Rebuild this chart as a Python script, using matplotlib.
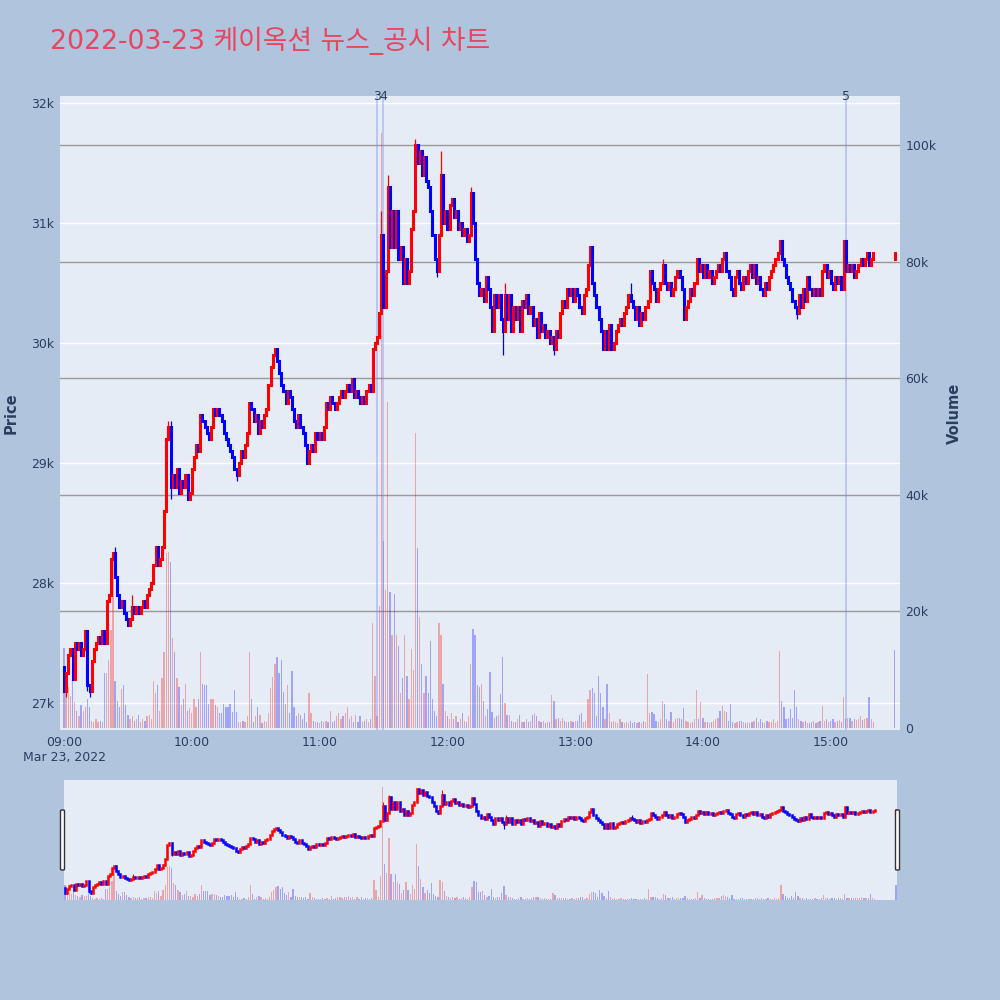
import matplotlib
matplotlib.use('Agg')
import matplotlib.pyplot as plt
from matplotlib.patches import FancyBboxPatch
import numpy as np

plt.rcParams['font.family'] = ['DejaVu Sans', 'Noto Sans CJK KR']

# ---------------- data ----------------
TITLE = '2022-03-23 케이옥션 뉴스_공시 차트'
X_TICK_MINUTES = [0, 60, 120, 180, 240, 300, 360]
X_TICK_LABELS = ['09:00\nMar 23, 2022', '10:00', '11:00', '12:00', '13:00', '14:00', '15:00']
PRICE_TICKS = [27000, 28000, 29000, 30000, 31000, 32000]
PRICE_TICK_LABELS = ['27k', '28k', '29k', '30k', '31k', '32k']
VOLUME_TICKS = [0, 20000, 40000, 60000, 80000, 100000]
VOLUME_TICK_LABELS = ['0', '20k', '40k', '60k', '80k', '100k']

FIRST_OPEN = 27300
# one close per minute from 09:00 (minute 0) to 15:20 (minute 380)
SESSION_CLOSE = [
    27100, 27250, 27400, 27450, 27200, 27500, 27450, 27500, 27400, 27450,
    27600, 27150, 27100, 27350, 27450, 27500, 27550, 27500, 27600, 27500,
    27850, 27900, 28200, 28250, 28050, 27900, 27800, 27850, 27750, 27700,
    27650, 27700, 27800, 27750, 27800, 27750, 27800, 27850, 27800, 27900,
    27950, 28000, 28150, 28300, 28150, 28200, 28300, 28600, 29200, 29300,
    28800, 28900, 28800, 28950, 28750, 28850, 28800, 28900, 28700, 28750,
    28950, 29050, 29150, 29100, 29400, 29350, 29300, 29250, 29200, 29300,
    29450, 29400, 29450, 29400, 29350, 29250, 29200, 29150, 29100, 29050,
    28950, 28900, 29000, 29100, 29050, 29150, 29250, 29500, 29450, 29350,
    29400, 29250, 29350, 29300, 29400, 29450, 29650, 29800, 29900, 29950,
    29850, 29750, 29650, 29600, 29500, 29600, 29550, 29450, 29350, 29300,
    29400, 29300, 29250, 29150, 29000, 29100, 29150, 29100, 29250, 29200,
    29250, 29200, 29300, 29500, 29450, 29550, 29500, 29450, 29500, 29550,
    29600, 29550, 29600, 29650, 29600, 29700, 29550, 29600, 29550, 29500,
    29550, 29500, 29600, 29650, 29600, 29950, 30000, 30050, 30250, 30900,
    30300, 30600, 31300, 30800, 31100, 30800, 31100, 30700, 30800, 30500,
    30700, 30500, 30600, 30950, 31100, 31650, 31500, 31600, 31400, 31550,
    31350, 31300, 31100, 30900, 30700, 30600, 30900, 31400, 31000, 31100,
    30950, 31150, 31200, 31050, 31100, 30950, 31000, 30900, 30950, 30850,
    30900, 31250, 31000, 30700, 30500, 30400, 30450, 30350, 30550, 30450,
    30300, 30100, 30400, 30300, 30400, 30200, 30100, 30400, 30200, 30400,
    30100, 30300, 30200, 30300, 30100, 30350, 30300, 30400, 30250, 30300,
    30150, 30200, 30050, 30250, 30100, 30150, 30050, 30100, 30000, 30050,
    29950, 30100, 30050, 30250, 30350, 30300, 30450, 30400, 30450, 30350,
    30450, 30400, 30300, 30250, 30400, 30450, 30650, 30800, 30500, 30400,
    30300, 30200, 30100, 29950, 30100, 29950, 30150, 29950, 30000, 30100,
    30150, 30200, 30150, 30250, 30300, 30400, 30350, 30300, 30200, 30300,
    30150, 30250, 30200, 30300, 30350, 30600, 30500, 30450, 30350, 30450,
    30500, 30650, 30500, 30450, 30500, 30400, 30450, 30550, 30600, 30550,
    30450, 30200, 30300, 30350, 30450, 30400, 30500, 30700, 30600, 30650,
    30550, 30650, 30550, 30600, 30500, 30550, 30600, 30650, 30600, 30700,
    30750, 30600, 30550, 30450, 30400, 30550, 30600, 30500, 30450, 30550,
    30500, 30600, 30650, 30550, 30650, 30500, 30550, 30450, 30400, 30500,
    30450, 30550, 30600, 30650, 30700, 30750, 30850, 30700, 30650, 30550,
    30500, 30450, 30350, 30300, 30250, 30400, 30300, 30450, 30350, 30550,
    30450, 30400, 30450, 30400, 30450, 30400, 30600, 30650, 30550, 30600,
    30500, 30450, 30550, 30500, 30550, 30450, 30850, 30600, 30650, 30600,
    30650, 30550, 30600, 30650, 30700, 30650, 30700, 30750, 30650, 30700,
    30750,
]
# extra wick extremes (minute: price)
WICK_HIGH = {24: 28300, 32: 27900, 49: 29350, 50: 29350, 149: 31100, 152: 31400,
             165: 31700, 177: 31600, 191: 31300, 207: 30500, 266: 30500, 281: 30700}
WICK_LOW = {1: 27050, 11: 27100, 12: 27050, 50: 28700, 81: 28850, 175: 30550,
            206: 29900, 230: 29900, 344: 30200}
# volume per minute, in thousands of shares
VOLUME_K = [
    13.7, 9.4, 7.0, 5.5, 12.0, 4.5, 3.0, 2.0, 3.9, 3.0,
    3.6, 5.0, 3.6, 1.2, 1.0, 1.5, 1.0, 1.2, 1.0, 9.4,
    9.4, 11.7, 16.8, 30.0, 8.0, 4.7, 3.6, 6.7, 7.3, 3.9,
    2.2, 1.5, 2.0, 1.2, 1.5, 2.2, 1.0, 1.5, 1.2, 2.0,
    2.2, 1.5, 8.0, 6.0, 7.4, 3.0, 8.5, 13.0, 30.0, 30.2,
    28.5, 15.4, 13.0, 8.5, 7.0, 3.9, 5.0, 7.5, 3.0, 3.5,
    2.5, 5.0, 3.6, 5.0, 13.0, 7.6, 7.4, 7.4, 4.2, 5.0,
    5.0, 4.0, 3.6, 2.5, 2.5, 4.2, 3.6, 3.6, 4.2, 2.8,
    6.6, 2.8, 1.0, 1.0, 1.2, 1.0, 2.0, 13.0, 5.0, 1.0,
    2.0, 3.6, 2.2, 0.8, 1.2, 1.0, 2.5, 6.9, 8.7, 11.0,
    12.2, 9.4, 11.6, 6.2, 4.2, 7.3, 2.5, 9.7, 3.6, 2.0,
    2.5, 2.2, 1.5, 2.5, 1.0, 6.0, 2.5, 1.2, 1.0, 1.0,
    0.8, 1.2, 1.0, 1.2, 1.0, 3.0, 1.0, 1.2, 2.0, 2.5,
    1.5, 2.0, 2.5, 3.6, 1.5, 2.0, 1.0, 2.2, 1.0, 2.0,
    1.0, 1.2, 1.5, 1.0, 1.5, 18.0, 9.0, 2.0, 21.0, 102.0,
    32.0, 23.7, 56.0, 23.4, 16.0, 23.0, 16.0, 14.0, 6.0, 8.5,
    16.0, 9.0, 5.0, 13.5, 10.0, 50.6, 30.8, 19.0, 11.0, 6.0,
    9.0, 6.0, 15.0, 5.0, 3.0, 2.0, 18.0, 16.0, 7.5, 3.0,
    2.0, 1.5, 2.5, 1.5, 2.0, 1.0, 1.5, 2.5, 1.2, 1.0,
    2.0, 11.0, 17.0, 16.0, 7.3, 7.0, 7.5, 4.6, 2.0, 3.3,
    9.6, 2.7, 1.7, 2.0, 2.3, 5.9, 12.2, 4.3, 2.3, 2.3,
    1.2, 1.0, 1.0, 1.5, 2.3, 1.0, 1.0, 1.5, 1.0, 1.2,
    2.3, 2.5, 2.0, 1.2, 1.0, 1.2, 0.8, 1.0, 1.0, 5.6,
    4.6, 1.5, 1.7, 1.2, 1.7, 1.2, 1.0, 1.0, 1.2, 1.0,
    1.2, 1.2, 2.3, 2.5, 1.0, 1.2, 4.9, 6.5, 6.9, 6.0,
    2.0, 9.0, 6.0, 3.6, 1.5, 7.6, 2.5, 1.0, 1.2, 1.0,
    0.8, 1.5, 1.0, 0.8, 1.0, 0.8, 1.2, 0.8, 1.0, 0.8,
    1.0, 0.8, 1.2, 1.0, 9.2, 2.5, 2.8, 2.4, 1.2, 1.0,
    1.6, 4.7, 4.2, 1.6, 1.2, 2.8, 1.0, 1.6, 1.8, 1.8,
    1.5, 3.4, 1.2, 1.0, 0.8, 1.0, 1.6, 6.5, 1.6, 4.4,
    1.8, 1.0, 1.0, 0.8, 1.0, 1.2, 1.6, 1.8, 3.0, 3.8,
    3.0, 2.8, 1.2, 4.2, 1.0, 0.8, 1.0, 1.2, 1.2, 1.0,
    0.8, 1.0, 0.8, 1.0, 1.2, 1.8, 1.0, 1.6, 1.0, 0.8,
    1.2, 1.0, 1.0, 1.6, 0.8, 1.2, 13.2, 4.7, 3.6, 1.5,
    1.8, 3.2, 1.7, 6.5, 3.6, 1.6, 1.2, 1.0, 1.2, 0.8,
    0.8, 1.0, 1.2, 0.8, 1.0, 1.2, 3.8, 1.2, 1.6, 1.0,
    1.2, 1.6, 1.0, 1.2, 1.4, 1.0, 5.3, 1.6, 1.8, 1.8,
    1.2, 1.6, 1.4, 1.6, 2.0, 1.4, 1.6, 1.8, 5.3, 1.6,
    1.0,
]
CLOSING_AUCTION_MINUTE = 390  # 15:30
CLOSING_AUCTION_OPEN = 30700
CLOSING_AUCTION_CLOSE = 30750
CLOSING_AUCTION_VOLUME_K = 13.4

NEWS_MINUTES = [147, 150, 367]
NEWS_COUNTS = ['3', '4', '5']

# ---------------- derived ----------------
n = len(SESSION_CLOSE)
minutes = np.array(list(range(n)) + [CLOSING_AUCTION_MINUTE], float)
closes = np.array(SESSION_CLOSE + [CLOSING_AUCTION_CLOSE], float)
opens = np.array([FIRST_OPEN] + SESSION_CLOSE[:-1] + [CLOSING_AUCTION_OPEN], float)
highs = np.maximum(opens, closes)
lows = np.minimum(opens, closes)
for k, v in WICK_HIGH.items():
    highs[k] = max(highs[k], v)
for k, v in WICK_LOW.items():
    lows[k] = min(lows[k], v)
volumes = np.array(VOLUME_K + [CLOSING_AUCTION_VOLUME_K]) * 1000.0
prev_close = np.concatenate([[FIRST_OPEN], closes[:-1]])

RED = '#FF0000'
BLUE = '#0000FF'
candle_colors = np.where(closes > opens, RED, BLUE)
vol_colors = np.where(closes > prev_close, RED, BLUE)

BG = '#B0C4DE'
PLOT_BG = '#E5ECF6'
TXT = '#2a3f5f'

PRICE_LIM = (26775, 32058)
VOL_LIM = (-340, 108400)


def draw(ax_p, ax_v, body_lw=2.2, wick_lw=0.9):
    ax_v.bar(minutes, volumes, width=0.6, color=vol_colors, alpha=0.3,
             linewidth=0, zorder=2)
    ax_p.vlines(minutes, lows, highs, colors=candle_colors, linewidth=wick_lw, zorder=3)
    ax_p.vlines(minutes, np.minimum(opens, closes), np.maximum(opens, closes),
                colors=candle_colors, linewidth=body_lw, capstyle='projecting',
                zorder=4)


fig = plt.figure(figsize=(10, 10), dpi=100)
fig.patch.set_facecolor(BG)

# ---------- main chart ----------
ax_p = fig.add_axes([0.06, 0.27, 0.84, 0.634])
ax_v = ax_p.twinx()
ax_p.set_zorder(2)
ax_v.set_zorder(1)
ax_p.patch.set_visible(False)
ax_v.patch.set_visible(True)
ax_v.patch.set_facecolor(PLOT_BG)

XLIM = (-1.88, 392.5)
ax_p.set_xlim(*XLIM)
ax_p.set_ylim(*PRICE_LIM)
ax_v.set_ylim(*VOL_LIM)

for v in VOLUME_TICKS[1:]:
    ax_v.axhline(v, color='#9a9a9a', linewidth=1.0, zorder=0.6)
for p in PRICE_TICKS:
    ax_v.plot([0, 1], [p, p], transform=ax_p.get_yaxis_transform(),
              color='white', linewidth=1.0, zorder=0.5)

for m in NEWS_MINUTES:
    ax_v.axvline(m, color=(0.45, 0.55, 0.95), alpha=0.45, linewidth=1.2, zorder=3)

draw(ax_p, ax_v)

for m, t in zip(NEWS_MINUTES, NEWS_COUNTS):
    ax_p.text(m, 1.0, t, transform=ax_p.get_xaxis_transform(), ha='center',
              va='center', fontsize=9, color=TXT)

ax_p.set_yticks(PRICE_TICKS)
ax_p.set_yticklabels(PRICE_TICK_LABELS)
ax_v.set_yticks(VOLUME_TICKS)
ax_v.set_yticklabels(VOLUME_TICK_LABELS)
ax_p.set_xticks(X_TICK_MINUTES)
ax_p.set_xticklabels(X_TICK_LABELS)
ax_p.tick_params(axis='both', length=0, labelsize=9, labelcolor=TXT, pad=4)
ax_v.tick_params(axis='y', length=0, labelsize=9, labelcolor=TXT, pad=4)
for a in (ax_p, ax_v):
    for s in a.spines.values():
        s.set_visible(False)

fig.text(0.011, 0.587, 'Price', rotation=90, ha='center', va='center',
         fontsize=10.5, fontweight='bold', color=TXT)
fig.text(0.954, 0.587, 'Volume', rotation=90, ha='center', va='center',
         fontsize=10.5, fontweight='bold', color=TXT)

fig.text(0.05, 0.951, TITLE, ha='left', va='baseline', fontsize=19.3,
         color='#E8455F')

# ---------- range slider ----------
ax_sp = fig.add_axes([0.064, 0.10, 0.833, 0.12])
ax_sv = ax_sp.twinx()
ax_sp.set_zorder(2)
ax_sv.set_zorder(1)
ax_sp.patch.set_visible(False)
ax_sv.patch.set_visible(True)
ax_sv.patch.set_facecolor(PLOT_BG)
ax_sp.set_xlim(-0.5, 390.5)
ax_sp.set_ylim(*PRICE_LIM)
ax_sv.set_ylim(*VOL_LIM)
draw(ax_sp, ax_sv, body_lw=1.8, wick_lw=0.8)
for a in (ax_sp, ax_sv):
    a.set_xticks([])
    a.set_yticks([])
    for s in a.spines.values():
        s.set_visible(False)

for hx in (0.0605, 0.8955):
    fig.add_artist(FancyBboxPatch((hx, 0.13), 0.004, 0.06,
                                  boxstyle='round,pad=0,rounding_size=0.001',
                                  transform=fig.transFigure, facecolor='white',
                                  edgecolor='#333333', linewidth=1.0, zorder=10))

fig.savefig('out.png', dpi=100, facecolor=fig.get_facecolor())
